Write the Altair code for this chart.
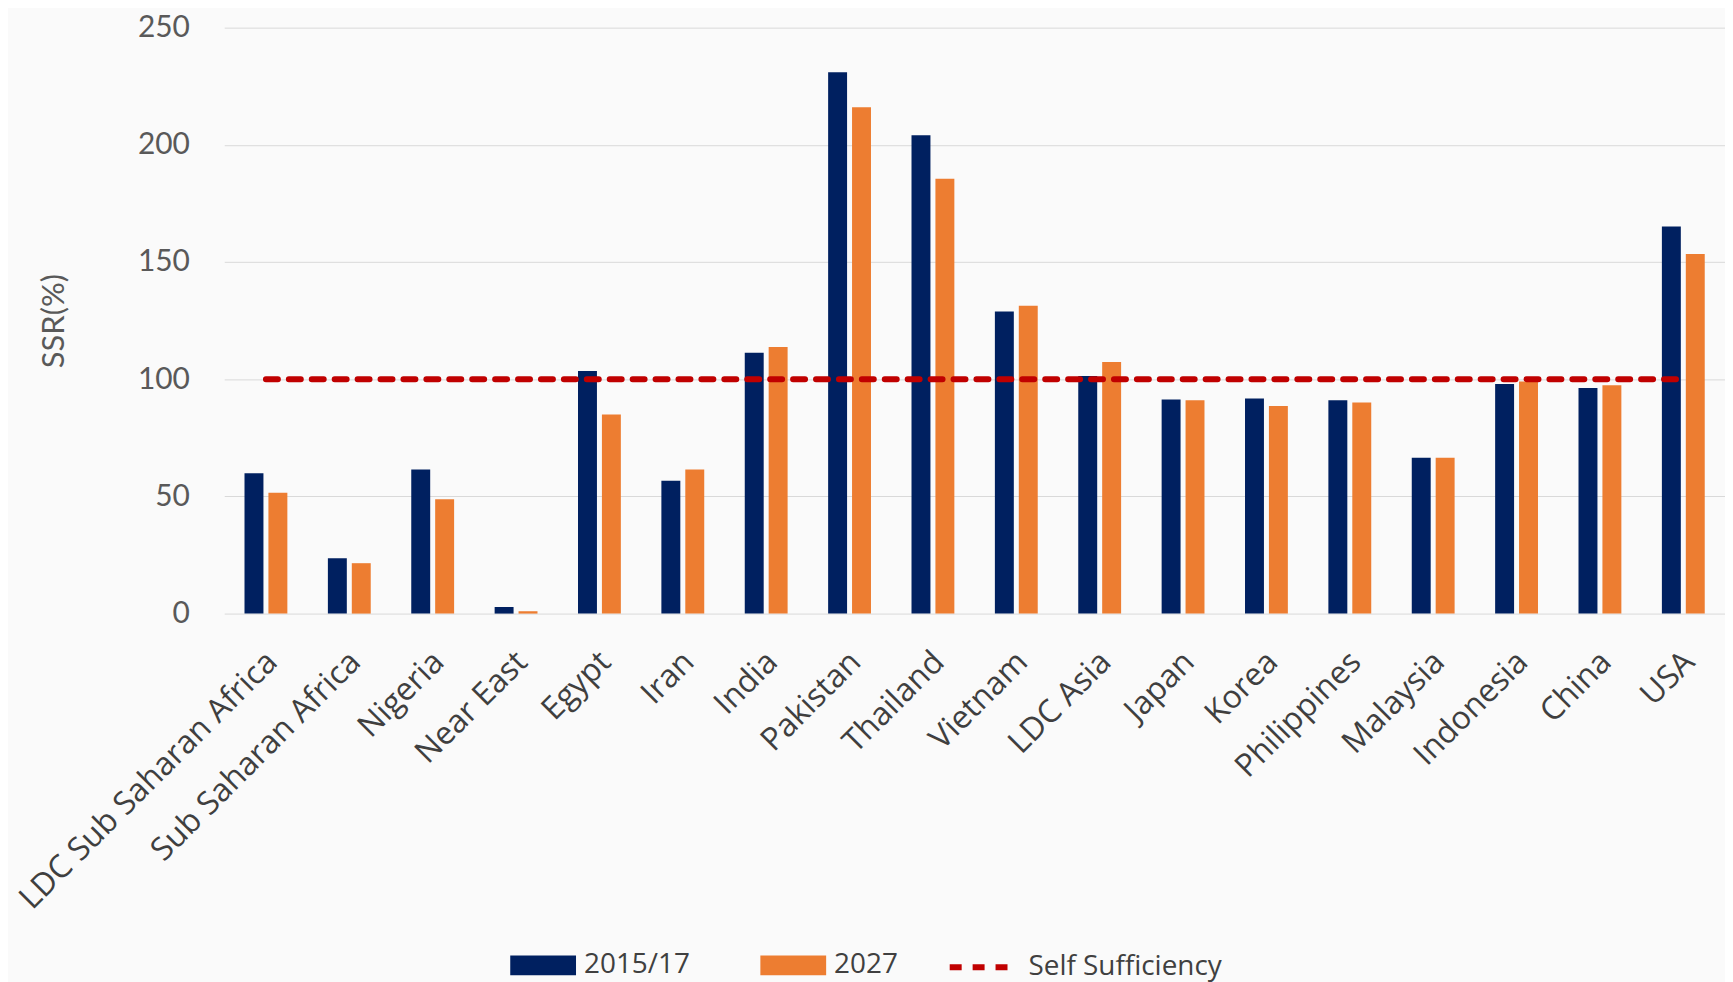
import altair as alt
import pandas as pd

categories = ["LDC Sub Saharan Africa", "Sub Saharan Africa", "Nigeria", "Near East",
              "Egypt", "Iran", "India", "Pakistan", "Thailand", "Vietnam", "LDC Asia",
              "Japan", "Korea", "Philippines", "Malaysia", "Indonesia", "China", "USA"]
series_names = ["2015/17", "2027"]
ssr_2015_17 = [59.9, 23.6, 61.5, 2.8, 103.5, 56.7, 111.3, 231.0, 204.1, 128.9, 101.4,
               91.3, 91.8, 91.0, 66.5, 98.0, 96.3, 165.2]
ssr_2027 = [51.6, 21.5, 48.8, 1.0, 84.9, 61.5, 113.7, 216.0, 185.5, 131.3, 107.3,
            91.0, 88.6, 90.1, 66.5, 99.0, 97.4, 153.4]
self_sufficiency = [100, 100, 100, 100, 100, 100, 100, 100, 100, 100, 100,
                    100, 100, 100, 100, 100, 100, 100]
line_label = "Self Sufficiency"
y_ticks = [0, 50, 100, 150, 200, 250]

bar_rows = []
for c, a, b in zip(categories, ssr_2015_17, ssr_2027):
    bar_rows.append({"category": c, "series": series_names[0], "value": a})
    bar_rows.append({"category": c, "series": series_names[1], "value": b})
bar_df = pd.DataFrame(bar_rows)
line_df = pd.DataFrame({"category": categories, "value": self_sufficiency,
                        "label": [line_label] * len(categories)})

rect_path = "M-1,-0.3H1V0.3H-1Z"

bars = alt.Chart(bar_df).mark_bar().encode(
    x=alt.X("category:N", sort=categories,
            scale=alt.Scale(paddingInner=0.486, paddingOuter=0.243),
            axis=alt.Axis(title=None, labelAngle=-45, labelAlign="right", labelBaseline="middle",
                          labelFontSize=32, labelFont="Open Sans", labelColor="#3f3f3f",
                          domain=False, ticks=False, labelPadding=43, labelOffset=6,
                          labelLimit=800, grid=False)),
    xOffset=alt.XOffset("series:N", sort=series_names,
                        scale=alt.Scale(paddingInner=0.208, paddingOuter=0)),
    y=alt.Y("value:Q", scale=alt.Scale(domain=[0, 250], nice=False),
            axis=alt.Axis(values=y_ticks, title="SSR(%)", grid=True, gridColor="#d9d9d9",
                          gridWidth=1, domain=False, ticks=False, labelPadding=35,
                          labelFontSize=30, labelFont="Lato", labelColor="#595959",
                          titleFont="Lato", titleFontSize=31, titleFontWeight="normal",
                          titleColor="#595959", titleX=-170, titleY=294,
                          titleAlign="center", titleBaseline="middle", titleAngle=270)),
    color=alt.Color("series:N",
                    scale=alt.Scale(domain=series_names, range=["#002060", "#ED7D31"]),
                    legend=alt.Legend(title=None, orient="none", direction="horizontal",
                                      legendX=287, legendY=908, symbolType=rect_path,
                                      symbolSize=4356, symbolStrokeWidth=0,
                                      labelFontSize=28, labelFont="Open Sans",
                                      labelColor="#404040", labelOffset=8, labelLimit=600,
                                      columnPadding=70, padding=0)),
)

line = alt.Chart(line_df).mark_line(color="#C00000", strokeWidth=6, strokeCap="round").encode(
    x=alt.X("category:N", sort=categories),
    y=alt.Y("value:Q"),
    strokeDash=alt.StrokeDash("label:N",
                              scale=alt.Scale(domain=[line_label], range=[[12, 11]]),
                              legend=alt.Legend(title=None, orient="none", legendX=725,
                                                legendY=908, symbolType="stroke",
                                                symbolSize=4096, symbolStrokeColor="#C00000",
                                                symbolStrokeWidth=6, symbolDash=[16, 8],
                                                labelFontSize=28, labelLimit=600,
                                                labelFont="Open Sans", labelColor="#404040",
                                                labelOffset=12, padding=0)),
)

chart = alt.layer(bars, line).properties(
    width=1506, height=588,
    autosize=alt.AutoSizeParams(type="none"),
    padding={"left": 217, "top": 18, "right": 0, "bottom": 368},
    background="#fafafa",
).configure_view(stroke=None)

chart.save("out.html", embed_options={"renderer": "svg", "actions": False})
